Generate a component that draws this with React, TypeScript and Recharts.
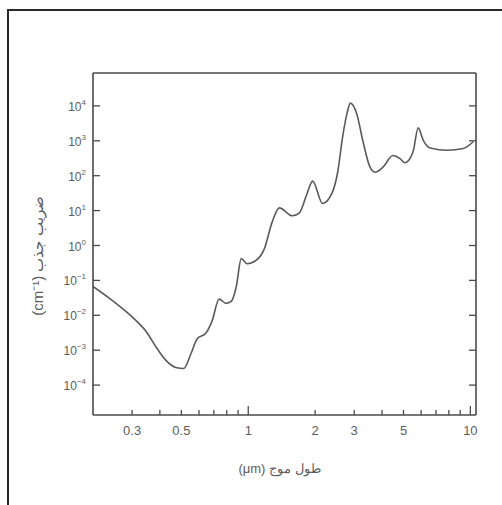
import { LineChart, Line, XAxis, YAxis } from "recharts";

// Absorption coefficient of water vs wavelength.
const wavelength = [
  0.2, 0.235, 0.27, 0.3, 0.325, 0.345, 0.365, 0.384, 0.426, 0.472, 0.513, 0.552, 0.588, 0.645, 0.687, 0.739, 0.795,
  0.838, 0.883, 0.93, 0.99, 1.087, 1.18, 1.28, 1.38, 1.58, 1.7, 1.83, 1.95, 2.16, 2.38, 2.53, 2.66, 2.78, 2.88,
  3.08, 3.28, 3.53, 3.72, 4.04, 4.48, 4.82, 5.08, 5.52, 5.82, 6.13, 6.59, 7.87, 9.29, 10.3,
];
const absorption = [
  0.067, 0.032, 0.016, 0.009, 0.0055, 0.0036, 0.0021, 0.00125, 0.00051, 0.00032, 0.0003, 0.00079, 0.0021, 0.0031,
  0.0068, 0.029, 0.022, 0.025, 0.066, 0.42, 0.3, 0.38, 0.79, 4.6, 12, 7.1, 8.6, 28, 70, 16, 31, 132, 1300, 5900,
  12000, 5900, 1000, 178, 126, 175, 380, 310, 236, 486, 2340, 1050, 620, 535, 600, 940,
];

const xTicks = [0.3, 0.4, 0.5, 0.6, 0.7, 0.8, 0.9, 1, 2, 3, 4, 5, 6, 7, 8, 9, 10];
const xLabeled = [0.3, 0.5, 1, 2, 3, 5, 10];
const xLong = [1, 10];
const yExponents = [-4, -3, -2, -1, 0, 1, 2, 3, 4];

const xTitle = "طول موج (μm)";
const yTitle = "ضریب جذب (cm⁻¹)";

const data = wavelength.map((w, i) => ({ w, a: absorption[i] }));
const yTicks = yExponents.map((e) => Math.pow(10, e));

const INK = "#4a4a4a";
const TEXT = "#5c5c5c";
const FONT = "'Liberation Sans', Arial, sans-serif";

function BottomTick({ x, y, payload }: any) {
  const v = payload.value;
  const len = xLong.includes(v) ? 9 : 5;
  return (
    <g>
      <line x1={x} x2={x} y1={y - 8} y2={y - 8 - len} stroke={INK} strokeWidth={1.3} />
      {xLabeled.includes(v) && (
        <text x={x} y={y + 12} textAnchor="middle" fill={TEXT} fontSize={13} fontFamily={FONT}>
          {v}
        </text>
      )}
    </g>
  );
}

function TopTick({ x, y, payload }: any) {
  const len = xLong.includes(payload.value) ? 9 : 5;
  return <line x1={x} x2={x} y1={y} y2={y + len} stroke={INK} strokeWidth={1.3} />;
}

function LeftTick({ x, y, payload }: any) {
  const e = Math.round(Math.log10(payload.value));
  return (
    <g>
      <line x1={x + 7} x2={x + 14} y1={y} y2={y} stroke={INK} strokeWidth={1.3} />
      <text x={x} y={y + 5} textAnchor="end" fill={TEXT} fontSize={12} fontFamily={FONT}>
        <tspan>10</tspan>
        <tspan dy={-6} fontSize={8}>
          {e < 0 ? "−" + -e : e}
        </tspan>
      </text>
    </g>
  );
}

function RightTick({ x, y }: any) {
  return <line x1={x} x2={x - 7} y1={y} y2={y} stroke={INK} strokeWidth={1.3} />;
}

function XTitle({ viewBox }: any) {
  const cx = viewBox.x + viewBox.width / 2 - 5;
  return (
    <text x={cx} y={viewBox.y + viewBox.height + 28} textAnchor="middle" direction="rtl" fill={TEXT} fontSize={13} fontFamily={FONT}>
      {xTitle}
    </text>
  );
}

function YTitle({ viewBox }: any) {
  const cx = 37;
  const cy = viewBox.y + viewBox.height / 2 + 12;
  return (
    <text x={cx} y={cy} transform={`rotate(-90 ${cx} ${cy})`} textAnchor="middle" dominantBaseline="central" direction="rtl" fill={TEXT} fontSize={15} fontFamily={FONT}>
      {yTitle}
    </text>
  );
}

export default function App() {
  const xDomain = [0.2, 10.6];
  const yDomain = [1.39e-5, 8.77e4];
  const axisLine = { stroke: INK, strokeWidth: 1.6 };
  return (
    <div style={{ position: "relative", width: 502, height: 505, overflow: "hidden", background: "#fff" }}>
      <style>{"body{margin:0}"}</style>
      <div style={{ position: "absolute", left: 7, top: 9, width: 600, height: 600, border: "2px solid #2a2a2a" }} />
      <div style={{ position: "absolute", left: 0, top: 0 }}>
        <LineChart width={502} height={505} data={data} margin={{ top: 72, right: 25, bottom: 60, left: 33 }}>
          <XAxis
            dataKey="w"
            type="number"
            scale="log"
            domain={xDomain}
            allowDataOverflow
            ticks={xTicks}
            interval={0}
            height={30}
            tickLine={false}
            tickSize={0}
            tickMargin={8}
            axisLine={axisLine}
            tick={<BottomTick />}
            label={{ content: <XTitle /> }}
          />
          <XAxis
            xAxisId="top"
            orientation="top"
            type="number"
            scale="log"
            domain={xDomain}
            allowDataOverflow
            ticks={xTicks}
            interval={0}
            height={1}
            tickLine={false}
            tickSize={0}
            tickMargin={0}
            axisLine={axisLine}
            tick={<TopTick />}
          />
          <YAxis
            type="number"
            scale="log"
            domain={yDomain}
            allowDataOverflow
            ticks={yTicks}
            interval={0}
            width={60}
            tickLine={false}
            tickSize={0}
            tickMargin={7}
            axisLine={axisLine}
            tick={<LeftTick />}
            label={{ content: <YTitle /> }}
          />
          <YAxis
            yAxisId="right"
            orientation="right"
            type="number"
            scale="log"
            domain={yDomain}
            allowDataOverflow
            ticks={yTicks}
            interval={0}
            width={1}
            tickLine={false}
            tickSize={0}
            tickMargin={0}
            axisLine={axisLine}
            tick={<RightTick />}
          />
          <Line type="monotone" dataKey="a" stroke="#5a5a5a" strokeWidth={1.6} dot={false} isAnimationActive={false} />
        </LineChart>
      </div>
    </div>
  );
}
